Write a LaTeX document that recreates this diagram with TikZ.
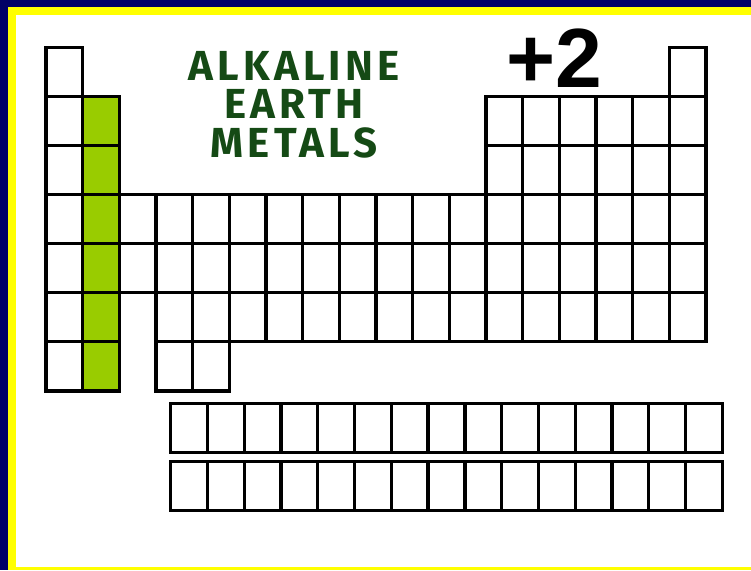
\documentclass[tikz,border=0pt]{standalone}
\usepackage{fontspec}
\newfontfamily\labelfont{Fira Sans}[LetterSpace=10]
\newfontfamily\chargefont{Liberation Sans}
\definecolor{framenavy}{HTML}{000066}
\definecolor{frameyellow}{HTML}{FFFF00}
\definecolor{alkgreen}{HTML}{99CC00}
\definecolor{labelgreen}{HTML}{154A15}
\tikzset{
  cell/.style={draw=black, line width=3.3pt, fill=white},
  alkcell/.style={cell, fill=alkgreen},
  grouptext/.style={font=\labelfont\bfseries\fontsize{42}{42}\selectfont, text=labelgreen, anchor=base, inner sep=0pt},
}
\newcommand{\cw}{36.67}
\newcommand{\ch}{49.05}

\begin{document}
\begin{tikzpicture}[x=1pt,y=-1pt]
  \useasboundingbox (0,0) rectangle (751,570);

  % Frame
  \fill[framenavy] (0,0) rectangle (751,570);
  \fill[frameyellow] (8,7) rectangle (751,570);
  \fill[white] (16,15) rectangle (751,567);

  % Main table, row by row
  \foreach \r/\cols in {1/{1,18}, 2/{1,2,13,14,...,18}, 3/{1,2,13,14,...,18},
                        4/{1,...,18}, 5/{1,...,18}, 6/{1,2,4,5,...,18}, 7/{1,2,4,5}} {
    \foreach \c in \cols {
      \draw[cell] ({46+(\c-1)*\cw},{47.5+(\r-1)*\ch}) rectangle ++(\cw,\ch);
    }
  }

  % Alkaline earth metals (group 2)
  \foreach \r in {2,...,7} {
    \draw[alkcell] ({46+\cw},{47.5+(\r-1)*\ch}) rectangle ++(\cw,\ch);
  }

  % Lanthanides and actinides
  \foreach \y in {403.8,461.5} {
    \foreach \c in {1,...,15} {
      \draw[cell] ({170.7+(\c-1)*36.77},\y) rectangle ++(36.77,49);
    }
  }

  % Labels
  \node[grouptext] (alkaline) at (294,80) {ALKALINE};
  \node[grouptext] (earth) at (294,118) {EARTH};
  \node[grouptext] (metals) at (294,157) {METALS};
  \node[font=\chargefont\bfseries\fontsize{84}{84}\selectfont, anchor=base, inner sep=0pt] (charge) at (554,87) {+2};
\end{tikzpicture}
\end{document}
